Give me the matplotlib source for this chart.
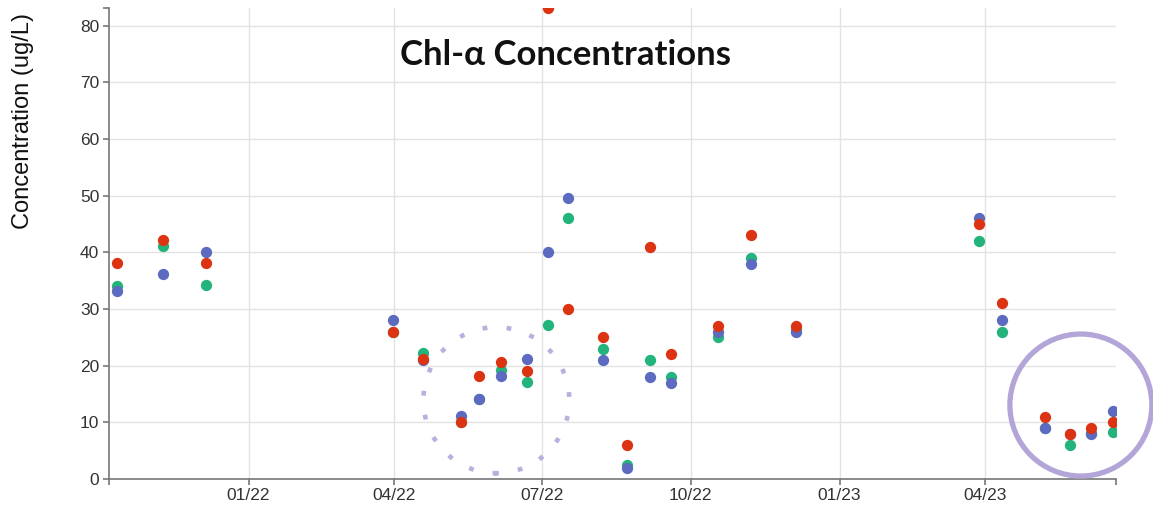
import matplotlib
matplotlib.use("Agg")
import matplotlib.pyplot as plt
import matplotlib.dates as mdates
from matplotlib.patches import Circle
from matplotlib.transforms import ScaledTranslation
import datetime as dt

# ---- data ----
dates = ["2021-10-12", "2021-11-09", "2021-12-06", "2022-03-31", "2022-04-19",
         "2022-05-12", "2022-05-23", "2022-06-06", "2022-06-22", "2022-07-05",
         "2022-07-17", "2022-08-08", "2022-08-23", "2022-09-06", "2022-09-19",
         "2022-10-18", "2022-11-07", "2022-12-05", "2023-03-28", "2023-04-11",
         "2023-05-08", "2023-05-23", "2023-06-05", "2023-06-19"]
blue = [33.1, 36.2, 40.1, 28, 21, 11.2, 14.1, 18.1, 21.1, 40, 49.5, 21, 2, 18, 17,
        26, 38, 26, 46, 28, 9, 8, 8, 12]
green = [34.0, 41.1, 34.2, 26, 22.3, 10.1, 14.1, 19.2, 17.2, 27.2, 46, 23, 2.5, 21, 18,
         25, 39, 26.5, 42, 26, 9, 6, 8.2, 8.3]
red = [38.1, 42.2, 38.1, 26, 21.1, 10.1, 18.1, 20.6, 19.1, 83.1, 30, 25, 6, 41, 22,
       27, 43, 27, 45, 31, 11, 8, 9, 10]
yticks = [0, 10, 20, 30, 40, 50, 60, 70, 80]
xtick_dates = ["2022-01-01", "2022-04-01", "2022-07-01", "2022-10-01", "2023-01-01", "2023-04-01"]
xtick_labels = ["01/22", "04/22", "07/22", "10/22", "01/23", "04/23"]

x = [dt.datetime.strptime(d, "%Y-%m-%d") for d in dates]
xt = [dt.datetime.strptime(d, "%Y-%m-%d") for d in xtick_dates]

W, H = 1153, 505
fig = plt.figure(figsize=(W / 100, H / 100), dpi=100)
ax = fig.add_axes([109 / W, 26 / H, (1115.7 - 109) / W, (479 - 8) / H])

c_blue, c_green, c_red = "#5c6bc0", "#22b47a", "#dc3412"
ms = 66
ax.scatter(x, green, s=ms, color=c_green, zorder=3, linewidths=0)
ax.scatter(x, blue, s=ms, color=c_blue, zorder=4, linewidths=0)
ax.scatter(x, red, s=ms, color=c_red, zorder=5, linewidths=0)

xmin = dt.datetime(2021, 10, 6, 19)
xmax = dt.datetime(2023, 6, 20, 12)
ax.set_xlim(xmin, xmax)
ax.set_ylim(0, 83.1)

ax.set_xticks(xt)
ax.set_xticklabels(xtick_labels)
ax.set_yticks(yticks)
ax.set_yticklabels([str(v) for v in yticks])
ax.set_xticks([mdates.date2num(xmin), mdates.date2num(xmax)], minor=True)
ax.set_yticks([83.1], minor=True)

ax.grid(True, which="major", color="#e3e3e3", linewidth=1.0, zorder=0)
ax.set_axisbelow(True)
for s in ["top", "right"]:
    ax.spines[s].set_visible(False)
for s in ["left", "bottom"]:
    ax.spines[s].set_color("#777777")
    ax.spines[s].set_linewidth(1.2)
ax.tick_params(which="both", direction="out", length=4, width=1.2, color="#777777",
               labelsize=12.5, labelcolor="#333333")
ax.tick_params(axis="x", pad=2.5)
ax.tick_params(axis="y", pad=3)
for lab in ax.get_xticklabels() + ax.get_yticklabels():
    lab.set_fontfamily("Liberation Sans")

ax.set_ylabel("Concentration (ug/L)", fontsize=17, fontfamily="Liberation Sans",
              color="#111111")
ax.yaxis.set_label_coords(-0.0745, 0.76)

fig.text(566 / W, 1 - 55 / H, "Chl-α Concentrations", fontsize=25, fontweight="bold",
         family=["Lato", "DejaVu Sans"], ha="center", va="center", color="#111111")

# dotted annotation circle
cx1 = mdates.date2num(dt.datetime(2022, 6, 3))
tr1 = fig.dpi_scale_trans + ScaledTranslation(cx1, 13.9, ax.transData)
circ1 = Circle((0, 0), 0.73, transform=tr1, fill=False, edgecolor="#b3a6da",
               linewidth=3.3, linestyle=(0, (0.05, 5.2)), capstyle="projecting",
               clip_on=False, zorder=2, alpha=0.9)
fig.add_artist(circ1)

# solid annotation circle
cx2 = mdates.date2num(dt.datetime(2023, 5, 30))
tr2 = fig.dpi_scale_trans + ScaledTranslation(cx2, 13.05, ax.transData)
circ2 = Circle((0, 0), 0.71, transform=tr2, fill=False, edgecolor="#b3a5d8",
               linewidth=3.8, clip_on=False, zorder=2)
fig.add_artist(circ2)

fig.savefig("out.png", dpi=100)
